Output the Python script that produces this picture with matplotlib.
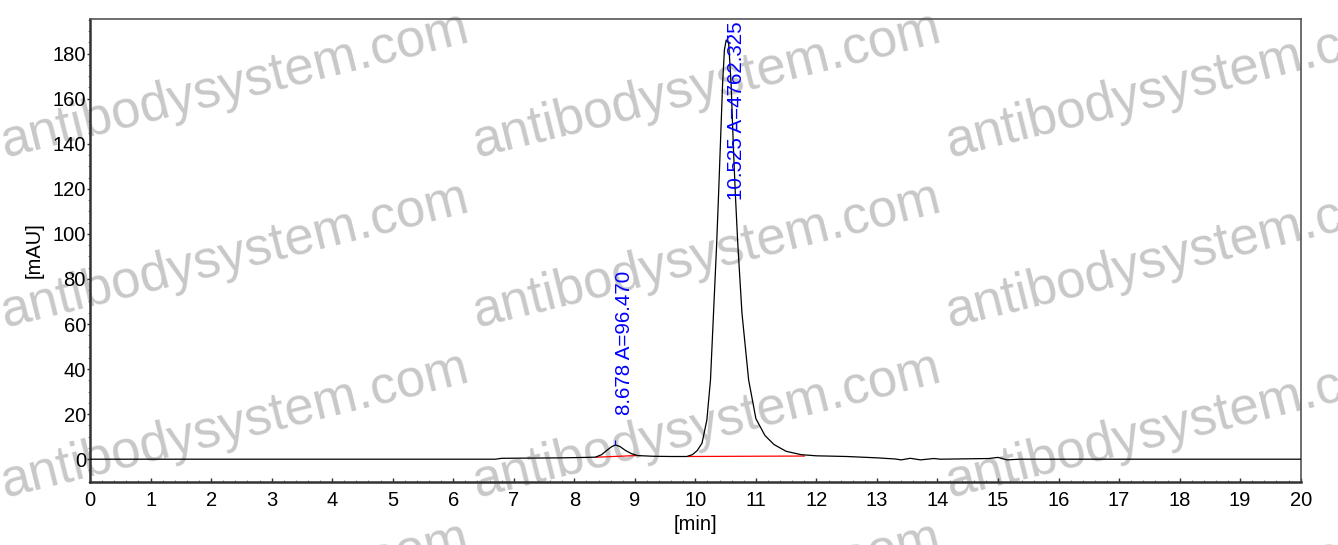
import matplotlib.pyplot as plt
from matplotlib.ticker import MultipleLocator

plt.rcParams['font.family'] = ['Liberation Sans', 'DejaVu Sans']

# chromatogram
t = [0.0, 6.7, 6.8, 7.3, 7.8, 8.2, 8.35, 8.45, 8.55, 8.62, 8.68, 8.75, 8.85,
     8.95, 9.05, 9.3, 9.6, 9.86, 9.95, 10.03, 10.11, 10.19, 10.25, 10.30,
     10.35, 10.38, 10.41, 10.45, 10.48, 10.51, 10.55, 10.59, 10.63, 10.66,
     10.70, 10.77, 10.88, 11.0, 11.15, 11.3, 11.5, 11.75, 12.0, 12.5, 13.0,
     13.3, 13.4, 13.55, 13.72, 13.94, 14.05, 14.85, 15.0, 15.15, 15.35, 20.0]
mau = [0.0, 0.0, 0.4, 0.5, 0.6, 0.8, 0.9, 2.0, 4.2, 5.6, 6.3, 5.7, 3.8,
       2.4, 1.6, 1.3, 1.2, 1.2, 2.0, 3.8, 7.1, 17.4, 35.2, 64.8,
       94.4, 115.0, 137.0, 166.7, 181.7, 186.1, 184.6, 166.9, 137.3, 118.0,
       96.0, 64.8, 35.2, 18.0, 10.5, 6.5, 3.5, 2.0, 1.5, 1.2, 0.6,
       0.1, -0.3, 0.4, -0.3, 0.3, 0.0, 0.3, 0.8, -0.3, 0.0, 0.0]

# integration baselines
base_t = [[8.36, 9.02], [9.88, 11.8]]
base_y = [[0.9, 1.6], [1.2, 1.4]]

# peak labels
peak_rt = [8.678, 10.525]
peak_top = [6.3, 186.1]
peak_txt = ['8.678 A=96.470', '10.525 A=4762.325']
txt_y = [19.7, 115.0]

fig = plt.figure(figsize=(13.38, 5.45), dpi=100)
ax = fig.add_axes([0.0673, 0.1161, 0.9048, 0.8495])
ax.set_facecolor('none')

# watermark behind the axes
for px in [5, 477, 950]:
    for py in [157, 327, 497, 667]:
        fig.text(px / 1338, 1 - py / 545, 'antibodysystem.com', fontsize=38,
                 color='#c8c8c8', rotation=14, rotation_mode='anchor',
                 ha='left', va='baseline', zorder=-5)

ax.plot(t, mau, color='black', lw=0.9, zorder=3)
for bt, by in zip(base_t, base_y):
    ax.plot(bt, by, color='red', lw=0.9, zorder=2)

for rt, top, s, ty in zip(peak_rt, peak_top, peak_txt, txt_y):
    ax.vlines(rt, top, top + 2.2, color='blue', lw=0.8, zorder=4)
    ax.text(rt, ty, s, rotation=90, ha='left', va='bottom', color='blue',
            fontsize=14.8, zorder=4)

ax.set_xlim(0, 20)
ax.set_ylim(-10, 195.5)
ax.xaxis.set_major_locator(MultipleLocator(1))
ax.xaxis.set_minor_locator(MultipleLocator(0.2))
ax.yaxis.set_major_locator(MultipleLocator(20))
ax.yaxis.set_minor_locator(MultipleLocator(5))
ax.set_yticks(range(0, 181, 20))

ax.tick_params(axis='x', which='major', direction='in', length=3, width=1,
               labelsize=14.5, pad=7, color='#333333')
ax.tick_params(axis='x', which='minor', direction='in', length=1.5,
               width=0.8, color='#888888')
ax.tick_params(axis='y', which='major', direction='out', length=2.5,
               width=1, labelsize=14.5, pad=0.5, color='#333333')
ax.tick_params(axis='y', which='minor', direction='out', length=1.5,
               width=0.8, color='#888888')

for side in ['left', 'bottom']:
    ax.spines[side].set_linewidth(1.8)
    ax.spines[side].set_color('#333333')
for side in ['top', 'right']:
    ax.spines[side].set_linewidth(1.2)
    ax.spines[side].set_color('#555555')

ax.set_xlabel('[min]', fontsize=14.5, labelpad=3)
ax.set_ylabel('[mAU]', fontsize=14.5, labelpad=6)

fig.savefig('out.png', dpi=100)
